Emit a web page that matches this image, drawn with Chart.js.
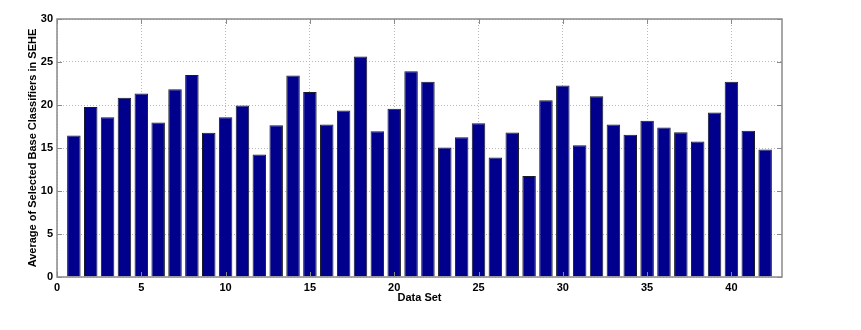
<!DOCTYPE html>
<html>
<head>
<meta charset="utf-8">
<script src="https://cdn.jsdelivr.net/npm/chart.js@4/dist/chart.umd.min.js"></script>
<style>
  html, body { margin: 0; padding: 0; background: #fff; }
  #wrap { width: 861px; height: 330px; }
</style>
</head>
<body>
<div id="wrap"><canvas id="chart" width="861" height="330"></canvas></div>
<script>
'use strict';

// Data set index 1..42 and averaged number of selected base classifiers
const dataSets = Array.from({ length: 42 }, (_, i) => i + 1);
const avgSelected = [
  16.45, 19.78, 18.58, 20.83, 21.33, 17.96, 21.83, 23.50, 16.76, 18.58,
  19.94, 14.25, 17.65, 23.42, 21.52, 17.73, 19.36, 25.63, 16.96, 19.55,
  23.93, 22.69, 15.06, 16.26, 17.89, 13.90, 16.80, 11.73, 20.56, 22.26,
  15.33, 21.02, 17.73, 16.53, 18.16, 17.38, 16.84, 15.76, 19.12, 22.69,
  17.00, 14.83
];
const xTicks = [0, 5, 10, 15, 20, 25, 30, 35, 40];
const yTicks = [0, 5, 10, 15, 20, 25, 30];

const font = { family: "'Liberation Sans', Arial, sans-serif", size: 11, weight: 'bold' };
const gridColor = '#b8b8b8';
const boxColor = '#8a8a8a';

// box around the plot + short inward ticks (matlab look)
const boxPlugin = {
  id: 'box',
  afterDatasetsDraw(chart) {
    const { ctx, chartArea: a, scales } = chart;
    ctx.save();
    ctx.strokeStyle = boxColor;
    ctx.lineWidth = 1.5;
    ctx.strokeRect(a.left, a.top, a.right - a.left, a.bottom - a.top);
    ctx.lineWidth = 1;
    ctx.beginPath();
    xTicks.forEach(v => {
      const x = Math.round(scales.x.getPixelForValue(v)) + 0.5;
      ctx.moveTo(x, a.bottom); ctx.lineTo(x, a.bottom - 5);
      ctx.moveTo(x, a.top); ctx.lineTo(x, a.top + 5);
    });
    yTicks.forEach(v => {
      const y = Math.round(scales.y.getPixelForValue(v)) + 0.5;
      ctx.moveTo(a.left, y); ctx.lineTo(a.left + 5, y);
      ctx.moveTo(a.right, y); ctx.lineTo(a.right - 5, y);
    });
    ctx.stroke();
    ctx.restore();
  }
};

new Chart(document.getElementById('chart'), {
  type: 'bar',
  data: {
    datasets: [{
      data: dataSets.map((x, i) => ({ x, y: avgSelected[i] })),
      backgroundColor: '#00008c',
      borderColor: '#1a1a2a',
      borderWidth: 1,
      barPercentage: 0.8,
      categoryPercentage: 1.0
    }]
  },
  options: {
    responsive: false,
    animation: false,
    layout: { padding: { top: 19, right: 79, left: 0, bottom: 0 } },
    plugins: { legend: { display: false }, tooltip: { enabled: false } },
    scales: {
      x: {
        type: 'linear',
        min: 0, max: 43,
        offset: false,
        afterBuildTicks: s => { s.ticks = xTicks.map(v => ({ value: v })); },
        afterFit: s => { s.height = 53; },
        grid: { color: gridColor, drawTicks: false, lineWidth: 1, offset: false },
        border: { display: false, dash: [1, 2] },
        ticks: { font, color: '#000', padding: 4, maxRotation: 0 },
        title: { display: true, text: 'Data Set', font, color: '#000', padding: { top: 0, bottom: 25 } }
      },
      y: {
        min: 0, max: 30,
        afterBuildTicks: s => { s.ticks = yTicks.map(v => ({ value: v })); },
        afterFit: s => { s.width = 57; },
        grid: { color: gridColor, drawTicks: false, lineWidth: 1 },
        border: { display: false, dash: [1, 2] },
        ticks: { font, color: '#000', padding: 4 },
        title: { display: true, text: 'Average of Selected Base Classifiers in SEHE', font, color: '#000', padding: { top: 26, bottom: 0 } }
      }
    }
  },
  plugins: [boxPlugin]
});
</script>
</body>
</html>
